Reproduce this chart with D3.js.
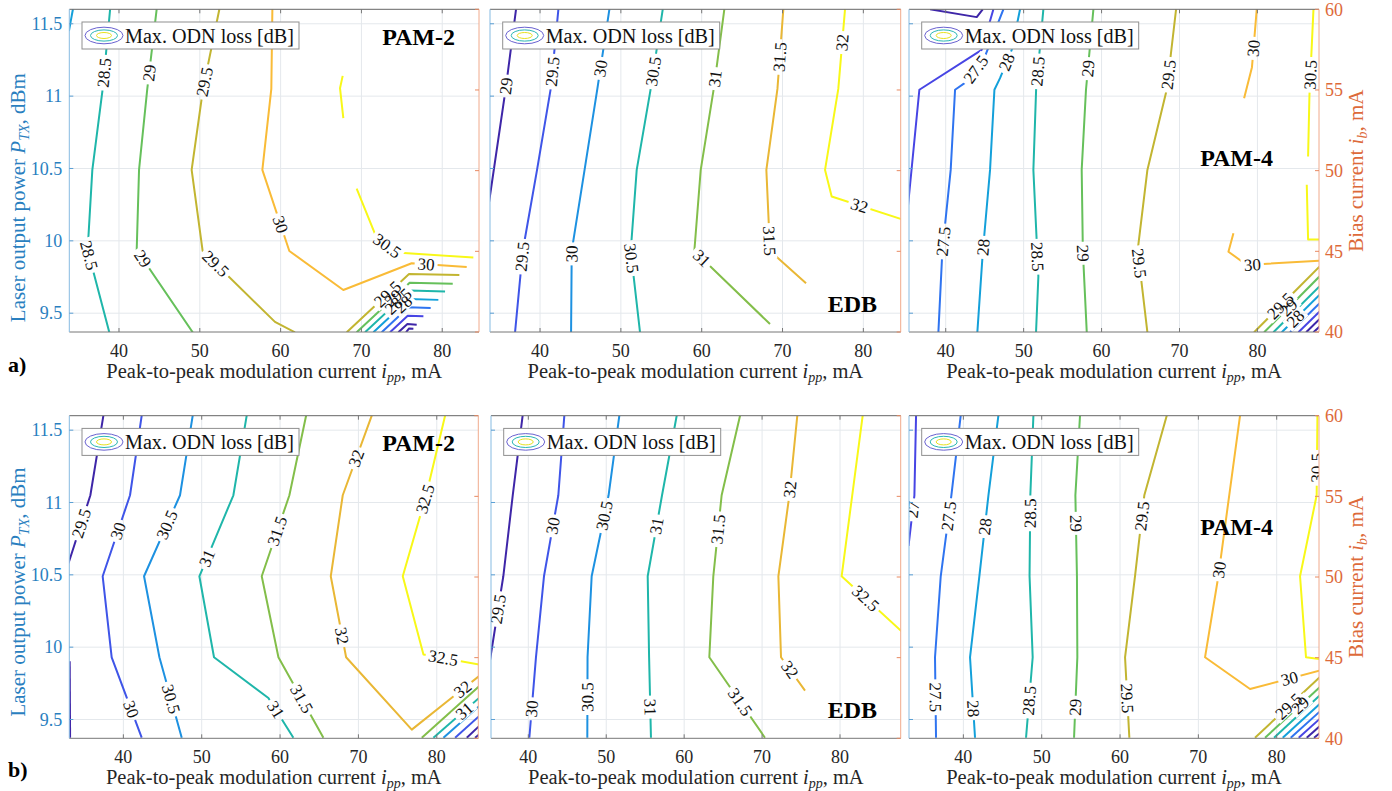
<!DOCTYPE html>
<html><head><meta charset="utf-8">
<script src="https://cdn.jsdelivr.net/npm/d3@7"></script>
<style>
body{margin:0;background:#fff;}
svg{display:block;}
text{font-family:"Liberation Serif","Times New Roman",serif;}
</style></head><body>
<svg id="chart" width="1392" height="791"></svg>
<script>
// ---------------- data (ipp [mA], P_TX [dBm]) ----------------
const xTicks = [40, 50, 60, 70, 80];
const yTicks = [9.5, 10, 10.5, 11, 11.5];
const yTickLabels = ["9.5", "10", "10.5", "11", "11.5"];
const biasTicks = [40, 45, 50, 55, 60];
const powerRange = [9.37, 11.6];
const biasRange = [40, 60];

const a1Contours = [
  {level: 28, pts: [[34.3, 11.6], [33.8, 11.45]], labels: []},
  {level: 28.5, pts: [[38.9, 11.6], [37.98, 11.05], [36.7, 10.49], [36.12, 9.937], [38.8, 9.368]], labels: [[38.5, 11.16], [36.3, 9.9]]},
  {level: 29, pts: [[44.66, 11.6], [43.5, 11.05], [42.48, 10.49], [42.19, 9.937], [49.12, 9.368]], labels: [[43.75, 11.16], [42.8, 9.87]]},
  {level: 29.5, pts: [[52.42, 11.6], [50.4, 11.05], [48.99, 10.49], [50.35, 9.93], [59.3, 9.44], [61.78, 9.368]], labels: [[50.44, 11.1], [51.76, 9.83]]},
  {level: 30, pts: [[58.98, 11.6], [58.85, 11.05], [57.74, 10.49], [61.08, 9.93], [67.76, 9.66], [76.22, 9.845], [83.03, 9.82]], labels: [[59.8, 10.11], [78.0, 9.833]]},
  {level: 30.5, pts: [[67.68, 11.14], [67.35, 11.055], [67.76, 10.848]], labels: []},
  {level: 30.5, pts: [[69.41, 10.36], [71.89, 10.018], [74.36, 9.919], [83.85, 9.884]], labels: [[73.05, 9.955]]},
  {level: 29.5, pts: [[68.18, 9.368], [75.89, 9.771], [82.12, 9.764]], labels: [[73.33, 9.626]]},
  {level: 29, pts: [[69.41, 9.368], [75.97, 9.711], [81.3, 9.704]], labels: [[73.95, 9.605]]},
  {level: 28.5, pts: [[70.45, 9.368], [75.97, 9.656], [80.35, 9.65]], labels: [[74.57, 9.58]]},
  {level: 28, pts: [[71.48, 9.368], [75.89, 9.598], [79.52, 9.592]], labels: [[75.19, 9.561]]},
  {level: 27.5, pts: [[72.51, 9.368], [75.81, 9.541], [78.57, 9.535]], labels: []},
  {level: 27, pts: [[73.54, 9.368], [75.73, 9.483], [77.67, 9.478]], labels: []},
  {level: 26.5, pts: [[74.57, 9.368], [75.69, 9.425], [76.84, 9.42]], labels: []},
  {level: 26, pts: [[75.52, 9.368], [75.9, 9.395], [76.43, 9.393]], labels: []}
];

const a2Contours = [
  {level: 29, pts: [[37.03, 11.6], [35.75, 11.05], [33.7, 10.27]], labels: [[35.79, 11.07]]},
  {level: 29.5, pts: [[42.27, 11.6], [41.32, 11.05], [39.63, 10.49], [37.86, 9.93], [36.91, 9.368]], labels: [[41.44, 11.17], [37.94, 9.89]]},
  {level: 30, pts: [[48.58, 11.6], [47.09, 11.05], [45.51, 10.49], [43.92, 9.93], [43.84, 9.368]], labels: [[47.63, 11.19], [44.12, 9.91]]},
  {level: 30.5, pts: [[55.18, 11.6], [53.69, 11.05], [51.96, 10.49], [51.22, 9.93], [52.37, 9.368]], labels: [[54.1, 11.17], [51.3, 9.88]]},
  {level: 31, pts: [[62.8, 11.6], [61.49, 11.05], [59.88, 10.49], [59.09, 9.93], [68.45, 9.425]], labels: [[61.77, 11.12], [60.0, 9.88]]},
  {level: 31.5, pts: [[70.1, 11.6], [69.37, 11.05], [68.0, 10.49], [68.45, 9.93], [72.91, 9.707]], labels: [[69.77, 11.27], [68.66, 10.0]]},
  {level: 32, pts: [[77.73, 11.6], [76.9, 11.05], [75.26, 10.49], [76.08, 10.306], [84.7, 10.15]], labels: [[77.45, 11.37], [79.5, 10.24]]}
];

const a3Contours = [
  {level: 26.5, pts: [[37.99, 11.6], [43.98, 11.546], [44.75, 11.6]], labels: []},
  {level: 27, pts: [[35.17, 10.246], [36.62, 11.044], [44.62, 11.32], [46.12, 11.6]], labels: []},
  {level: 27.5, pts: [[39.06, 9.368], [39.57, 9.93], [40.64, 10.49], [41.2, 11.044], [42.7, 11.1], [45.0, 11.27], [47.4, 11.6]], labels: [[39.91, 9.995], [44.06, 11.177]]},
  {level: 28, pts: [[44.06, 9.368], [44.77, 9.93], [45.69, 10.49], [46.25, 11.044], [46.97, 11.124], [48.47, 11.32], [49.54, 11.6]], labels: [[44.83, 9.955], [47.91, 11.233]]},
  {level: 28.5, pts: [[51.59, 9.368], [51.89, 9.753], [51.25, 10.49], [51.6, 11.044], [52.53, 11.6]], labels: [[52.11, 9.891], [52.02, 11.17]]},
  {level: 29, pts: [[58.1, 9.368], [57.6, 9.93], [57.45, 10.49], [58.0, 11.044], [58.95, 11.6]], labels: [[57.58, 9.914], [58.31, 11.19]]},
  {level: 29.5, pts: [[65.88, 9.368], [64.64, 9.937], [65.88, 10.49], [68.36, 11.044], [69.56, 11.6]], labels: [[64.86, 9.845], [68.7, 11.147]]},
  {level: 30, pts: [[79.91, 11.6], [79.3, 11.2], [78.29, 10.986]], labels: [[79.49, 11.33]]},
  {level: 30, pts: [[76.92, 10.052], [76.28, 9.925], [78.63, 9.833], [87.95, 9.863]], labels: [[79.36, 9.822]]},
  {level: 30.5, pts: [[87.19, 11.6], [86.67, 10.998], [86.5, 10.583]], labels: [[86.84, 11.147]]},
  {level: 30.5, pts: [[86.33, 10.387], [86.5, 10.01], [87.95, 10.01]], labels: []},
  {level: 29.5, pts: [[79.57, 9.368], [87.95, 9.822]], labels: [[82.91, 9.552]]},
  {level: 29, pts: [[80.86, 9.368], [87.95, 9.753]], labels: [[83.98, 9.541]]},
  {level: 28.5, pts: [[82.05, 9.368], [87.95, 9.684]], labels: []},
  {level: 28, pts: [[83.12, 9.368], [87.95, 9.626]], labels: [[84.83, 9.464]]},
  {level: 27.5, pts: [[84.19, 9.368], [87.95, 9.568]], labels: []},
  {level: 27, pts: [[85.26, 9.368], [87.95, 9.511]], labels: []},
  {level: 26.5, pts: [[86.25, 9.368], [87.95, 9.458]], labels: []},
  {level: 26, pts: [[87.19, 9.368], [87.95, 9.407]], labels: []}
];

const b1Contours = [
  {level: 29, pts: [[33.15, 9.902], [33.2, 9.374]], labels: []},
  {level: 29.5, pts: [[37.45, 11.6], [35.79, 11.05], [33.0, 10.58]], labels: [[34.68, 10.856]]},
  {level: 30, pts: [[42.34, 11.6], [40.85, 11.05], [37.36, 10.49], [38.51, 9.93], [42.34, 9.374]], labels: [[39.49, 10.8], [40.94, 9.57]]},
  {level: 30.5, pts: [[48.85, 11.6], [47.23, 11.05], [42.64, 10.49], [44.6, 9.93], [47.45, 9.374]], labels: [[45.62, 10.845], [45.87, 9.638]]},
  {level: 31, pts: [[55.74, 11.6], [54.04, 11.05], [49.7, 10.49], [51.57, 9.93], [58.51, 9.649], [61.7, 9.374]], labels: [[50.64, 10.615], [59.49, 9.569]]},
  {level: 31.5, pts: [[63.32, 11.6], [61.19, 11.05], [57.66, 10.49], [59.79, 9.93], [65.53, 9.374]], labels: [[59.79, 10.8], [62.64, 9.638]]},
  {level: 32, pts: [[71.7, 11.6], [68.0, 11.05], [66.47, 10.49], [68.43, 9.93], [76.81, 9.43], [81.91, 9.65], [85.4, 9.8]], labels: [[70.0, 11.3], [67.57, 10.075], [83.32, 9.707]]},
  {level: 32.5, pts: [[81.06, 11.6], [78.64, 11.05], [75.66, 10.49], [78.3, 9.95], [85.4, 9.88]], labels: [[78.81, 11.02], [80.77, 9.907]]},
  {level: 31.5, pts: [[78.09, 9.374], [85.4, 9.73]], labels: []},
  {level: 31, pts: [[79.57, 9.374], [85.4, 9.649]], labels: [[83.49, 9.562]]},
  {level: 30.5, pts: [[80.85, 9.374], [85.4, 9.592]], labels: []},
  {level: 30, pts: [[82.34, 9.374], [85.4, 9.523]], labels: []},
  {level: 29.5, pts: [[83.83, 9.374], [85.4, 9.454]], labels: []},
  {level: 29, pts: [[84.89, 9.374], [85.4, 9.397]], labels: []}
];

const b2Contours = [
  {level: 29.5, pts: [[39.27, 11.6], [38.0, 11.05], [36.79, 10.49], [35.21, 9.953], [35.0, 9.88]], labels: [[36.15, 10.263]]},
  {level: 30, pts: [[44.62, 11.6], [43.85, 11.05], [42.01, 10.49], [40.98, 9.93], [40.13, 9.374]], labels: [[43.21, 10.838], [40.43, 9.574]]},
  {level: 30.5, pts: [[51.68, 11.6], [50.3, 11.05], [48.13, 10.49], [47.6, 9.93], [47.57, 9.374]], labels: [[50.05, 10.907], [47.7, 9.654]]},
  {level: 31, pts: [[59.04, 11.6], [57.16, 11.05], [55.32, 10.49], [55.5, 9.93], [55.74, 9.374]], labels: [[56.47, 10.838], [55.53, 9.585]]},
  {level: 31.5, pts: [[67.17, 11.6], [64.81, 11.05], [63.74, 10.49], [63.23, 9.93], [70.37, 9.374]], labels: [[64.39, 10.815], [67.25, 9.624]]},
  {level: 32, pts: [[74.52, 11.6], [73.5, 11.05], [72.09, 10.49], [72.43, 9.93], [75.51, 9.7]], labels: [[73.67, 11.09], [73.37, 9.838]]},
  {level: 32.5, pts: [[82.91, 11.6], [81.57, 11.05], [80.21, 10.49], [87.9, 10.11]], labels: [[83.21, 10.332]]}
];

const b3Contours = [
  {level: 27, pts: [[33.96, 11.6], [33.75, 11.05], [33.0, 10.7]], labels: [[33.83, 10.948]]},
  {level: 27.5, pts: [[39.66, 11.6], [38.47, 11.05], [37.11, 10.49], [36.38, 9.93], [36.51, 9.374]], labels: [[38.09, 10.907], [36.17, 9.654]]},
  {level: 28, pts: [[44.47, 11.6], [43.2, 11.05], [42.04, 10.49], [40.85, 9.93], [41.49, 9.374]], labels: [[42.77, 10.833], [41.06, 9.574]]},
  {level: 28.5, pts: [[48.94, 11.6], [48.55, 11.05], [48.45, 10.49], [48.85, 9.93], [48.0, 9.374]], labels: [[48.3, 10.925], [48.43, 9.631]]},
  {level: 29, pts: [[54.89, 11.6], [54.3, 11.05], [54.5, 10.49], [54.55, 9.93], [54.13, 9.374]], labels: [[54.13, 10.856], [54.26, 9.585]]},
  {level: 29.5, pts: [[65.96, 11.6], [63.1, 11.05], [61.91, 10.49], [60.64, 9.93], [61.19, 9.374]], labels: [[62.64, 10.907], [60.94, 9.647]]},
  {level: 30, pts: [[75.32, 11.6], [73.94, 11.05], [72.55, 10.49], [70.85, 9.93], [76.6, 9.711], [85.5, 9.838]], labels: [[72.68, 10.534], [81.62, 9.785]]},
  {level: 30.5, pts: [[85.2, 11.6], [85.1, 11.05], [82.98, 10.49], [83.74, 9.93], [85.5, 9.918]], labels: [[84.89, 11.24]]},
  {level: 29.5, pts: [[77.23, 9.374], [85.5, 9.792]], labels: [[81.49, 9.592]]},
  {level: 29, pts: [[78.51, 9.374], [85.5, 9.723]], labels: [[82.98, 9.601]]},
  {level: 28.5, pts: [[79.66, 9.374], [85.5, 9.666]], labels: []},
  {level: 28, pts: [[80.77, 9.374], [85.5, 9.608]], labels: []},
  {level: 27.5, pts: [[81.79, 9.374], [85.5, 9.555]], labels: []},
  {level: 27, pts: [[82.81, 9.374], [85.5, 9.505]], labels: []},
  {level: 26.5, pts: [[83.83, 9.374], [85.5, 9.454]], labels: []},
  {level: 26, pts: [[84.77, 9.374], [85.5, 9.406]], labels: []}
];

const panelTitles = ["PAM-2", "EDB", "PAM-4", "PAM-2", "EDB", "PAM-4"];
const legendText = "Max. ODN loss [dB]";

// ---------------- layout & style ----------------
const panels = [
  {data: a1Contours, left: 69.3, right: 479, top: 9.3, bottom: 332, xDomain: [33.85, 84.55], clim: [26.5, 30.5], title: panelTitles[0], tPos: [455, 45], col: 0},
  {data: a2Contours, left: 490, right: 900.7, top: 9.3, bottom: 332, xDomain: [33.81, 84.62], clim: [29, 32], title: panelTitles[1], tPos: [877, 312], col: 1},
  {data: a3Contours, left: 909, right: 1319, top: 9.3, bottom: 332, xDomain: [35.29, 87.9], clim: [26.5, 30.5], title: panelTitles[2], tPos: [1273, 166], col: 2},
  {data: b1Contours, left: 69.3, right: 478.3, top: 415.7, bottom: 738.3, xDomain: [33.1, 85.3], clim: [29.5, 32.5], title: panelTitles[3], tPos: [455, 451], col: 0},
  {data: b2Contours, left: 491, right: 900.7, top: 415.7, bottom: 738.3, xDomain: [35.21, 87.79], clim: [29.5, 32.5], title: panelTitles[4], tPos: [877, 718], col: 1},
  {data: b3Contours, left: 909, right: 1319, top: 415.7, bottom: 738.3, xDomain: [33.06, 85.4], clim: [26.5, 30.5], title: panelTitles[5], tPos: [1273, 535], col: 2}
];

const parulaPos = [0, 0.125, 0.25, 0.375, 0.5, 0.64, 0.76, 0.87, 1];
const parulaCol = ["#3e26a8", "#4745e4", "#2f74f0", "#14a0da", "#1fb6aa", "#6fc152", "#c9b42e", "#f9b938", "#f8f818"];
const LEFT_C = "#2a7fbf", RIGHT_C = "#dd6a3a";

const svg = d3.select("#chart");
const defs = svg.append("defs");

panels.forEach((p, i) => {
  const x = d3.scaleLinear().domain(p.xDomain).range([p.left, p.right]);
  const y = d3.scaleLinear().domain(powerRange).range([p.bottom, p.top]);
  const yr = d3.scaleLinear().domain(biasRange).range([p.bottom, p.top]);
  const color = d3.scaleLinear()
    .domain(parulaPos.map(t => p.clim[0] + t * (p.clim[1] - p.clim[0])))
    .range(parulaCol).interpolate(d3.interpolateRgb).clamp(true);
  const g = svg.append("g");
  const W = p.right - p.left, H = p.bottom - p.top;

  // grid
  g.append("g").selectAll("line").data(xTicks).join("line")
    .attr("x1", d => x(d)).attr("x2", d => x(d)).attr("y1", p.top).attr("y2", p.bottom)
    .attr("stroke", "#e4e8ec").attr("stroke-width", 1);
  g.append("g").selectAll("line").data(yTicks).join("line")
    .attr("y1", d => y(d)).attr("y2", d => y(d)).attr("x1", p.left).attr("x2", p.right)
    .attr("stroke", "#e4e8ec").attr("stroke-width", 1);

  // clip & mask
  defs.append("clipPath").attr("id", "clip" + i).append("rect")
    .attr("x", p.left).attr("y", p.top).attr("width", W).attr("height", H);
  const mask = defs.append("mask").attr("id", "mask" + i).attr("maskUnits", "userSpaceOnUse")
    .attr("x", 0).attr("y", 0).attr("width", 1392).attr("height", 791);
  mask.append("rect").attr("x", 0).attr("y", 0).attr("width", 1392).attr("height", 791).attr("fill", "white");

  const lineGen = d3.line().x(d => x(d[0])).y(d => y(d[1]));
  const clipG = g.append("g").attr("clip-path", `url(#clip${i})`);
  const linesG = clipG.append("g").attr("mask", `url(#mask${i})`);
  const labelsG = clipG.append("g");

  p.data.forEach(c => {
    linesG.append("path").attr("d", lineGen(c.pts)).attr("fill", "none")
      .attr("stroke", color(c.level)).attr("stroke-width", 2).attr("stroke-linejoin", "round");
    const px = c.pts.map(d => [x(d[0]), y(d[1])]);
    c.labels.forEach(l => {
      const lp = [x(l[0]), y(l[1])];
      let best = null;
      for (let k = 0; k < px.length - 1; k++) {
        const [x1, y1] = px[k], [x2, y2] = px[k + 1];
        const dx = x2 - x1, dy = y2 - y1, L2 = dx * dx + dy * dy;
        let t = ((lp[0] - x1) * dx + (lp[1] - y1) * dy) / L2;
        t = Math.max(0, Math.min(1, t));
        const qx = x1 + t * dx, qy = y1 + t * dy;
        const dd = (qx - lp[0]) ** 2 + (qy - lp[1]) ** 2;
        if (!best || dd < best.dd) best = {dd, qx, qy, a: Math.atan2(dy, dx) * 180 / Math.PI};
      }
      let a = best.a;
      if (a > 90) a -= 180;
      if (a <= -90) a += 180;
      const txt = labelsG.append("text").text(String(c.level))
        .attr("transform", `translate(${best.qx},${best.qy}) rotate(${a})`)
        .attr("text-anchor", "middle").attr("dy", "0.34em")
        .attr("font-size", 17).attr("fill", "#111");
      const w = txt.node().getComputedTextLength() + 6;
      mask.append("rect").attr("x", -w / 2).attr("y", -7).attr("width", w).attr("height", 14)
        .attr("fill", "black").attr("transform", `translate(${best.qx},${best.qy}) rotate(${a})`);
    });
  });

  // axes box
  g.append("line").attr("x1", p.left).attr("x2", p.right).attr("y1", p.top).attr("y2", p.top).attr("stroke", "#666");
  g.append("line").attr("x1", p.left).attr("x2", p.right).attr("y1", p.bottom).attr("y2", p.bottom).attr("stroke", "#777");
  g.append("line").attr("x1", p.left).attr("x2", p.left).attr("y1", p.top).attr("y2", p.bottom).attr("stroke", "#86bbe2");
  g.append("line").attr("x1", p.right).attr("x2", p.right).attr("y1", p.top).attr("y2", p.bottom).attr("stroke", "#f0aa8c");

  // ticks
  const tk = 4;
  g.append("g").selectAll("path").data(xTicks).join("path")
    .attr("d", d => `M${x(d)},${p.bottom}v${-tk}M${x(d)},${p.top}v${tk}`).attr("stroke", "#777");
  g.append("g").selectAll("path").data(yTicks).join("path")
    .attr("d", d => `M${p.left},${y(d)}h${tk}`).attr("stroke", "#5a9fd4");
  g.append("g").selectAll("path").data(biasTicks).join("path")
    .attr("d", d => `M${p.right},${yr(d)}h${-tk}`).attr("stroke", "#e88a62");

  // x tick labels
  g.append("g").selectAll("text").data(xTicks).join("text")
    .attr("x", d => x(d)).attr("y", p.bottom + 25).attr("text-anchor", "middle")
    .attr("font-size", 18).attr("fill", "#262626").text(d => d);

  // x label
  const xl = g.append("text").attr("x", (p.left + p.right) / 2).attr("y", p.bottom + 46)
    .attr("text-anchor", "middle").attr("font-size", 20.5).attr("fill", "#262626");
  xl.append("tspan").text("Peak-to-peak modulation current ");
  xl.append("tspan").attr("font-style", "italic").text("i");
  xl.append("tspan").attr("font-style", "italic").attr("font-size", 14).attr("dy", 4).text("pp");
  xl.append("tspan").attr("dy", -4).text(", mA");

  if (p.col === 0) {
    g.append("g").selectAll("text").data(yTicks).join("text")
      .attr("x", p.left - 7).attr("y", d => y(d)).attr("dy", "0.35em").attr("text-anchor", "end")
      .attr("font-size", 18).attr("fill", LEFT_C).text((d, k) => yTickLabels[k]);
    const cy = (p.top + p.bottom) / 2 + (p.top < 100 ? 27 : 15);
    const yl = g.append("text").attr("transform", `translate(25,${cy}) rotate(-90)`)
      .attr("text-anchor", "middle").attr("font-size", 21).attr("fill", LEFT_C);
    yl.append("tspan").text("Laser output power ");
    yl.append("tspan").attr("font-style", "italic").text("P");
    yl.append("tspan").attr("font-style", "italic").attr("font-size", 14).attr("dy", 4).text("TX");
    yl.append("tspan").attr("dy", -4).text(", dBm");
  }
  if (p.col === 2) {
    g.append("g").selectAll("text").data(biasTicks).join("text")
      .attr("x", p.right + 6).attr("y", d => yr(d)).attr("dy", "0.35em").attr("text-anchor", "start")
      .attr("font-size", 18).attr("fill", RIGHT_C).text(d => d);
    const cy = (p.top + p.bottom) / 2;
    const rl = g.append("text").attr("transform", `translate(1363,${cy}) rotate(-90)`)
      .attr("text-anchor", "middle").attr("font-size", 21).attr("fill", RIGHT_C);
    rl.append("tspan").text("Bias current ");
    rl.append("tspan").attr("font-style", "italic").text("i");
    rl.append("tspan").attr("font-style", "italic").attr("font-size", 14).attr("dy", 4).text("b");
    rl.append("tspan").attr("dy", -4).text(", mA");
  }

  // legend
  const lx = p.left + 12.7, ly = p.top + 12.7;
  const lg = g.append("g");
  lg.append("rect").attr("x", lx).attr("y", ly).attr("width", 217).attr("height", 27)
    .attr("fill", "#fff").attr("stroke", "#8f8f8f").attr("stroke-width", 1);
  const ecx = lx + 22, ecy = ly + 13.5;
  [[19, 8.3, "#6a62d0"], [13.5, 5.6, "#2bb7b4"], [7.5, 3, "#e8e21e"]].forEach(e => {
    lg.append("ellipse").attr("cx", ecx).attr("cy", ecy).attr("rx", e[0]).attr("ry", e[1])
      .attr("fill", "none").attr("stroke", e[2]).attr("stroke-width", 1);
  });
  lg.append("text").attr("x", lx + 43).attr("y", ly + 20.5).attr("font-size", 20)
    .attr("textLength", 169).attr("lengthAdjust", "spacingAndGlyphs").attr("fill", "#111").text(legendText);

  // title
  g.append("text").attr("x", p.tPos[0]).attr("y", p.tPos[1]).attr("text-anchor", "end")
    .attr("font-size", 24).attr("font-weight", "bold").attr("fill", "#000").text(p.title);
});

svg.append("text").attr("x", 8).attr("y", 372).attr("font-size", 22).attr("font-weight", "bold").text("a)");
svg.append("text").attr("x", 8).attr("y", 777).attr("font-size", 22).attr("font-weight", "bold").text("b)");
</script>
</body></html>
